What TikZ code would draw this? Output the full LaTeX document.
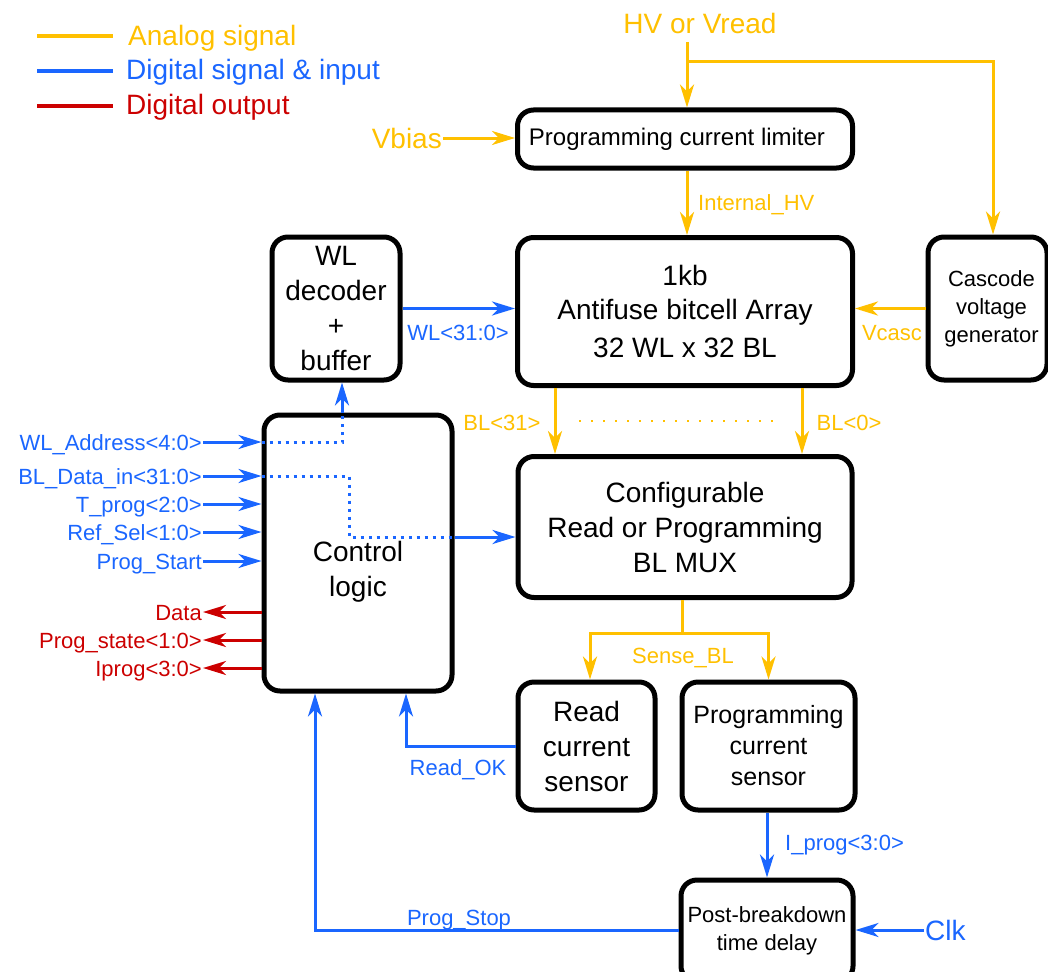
\documentclass[tikz,border=0pt]{standalone}
\usepackage{fontspec}
\setmainfont{Liberation Sans}
\usetikzlibrary{arrows.meta,calc}
\definecolor{aorange}{HTML}{FFC000}
\definecolor{dblue}{HTML}{1A66FF}
\definecolor{dred}{HTML}{CC0000}
\newcommand\fsA{\fontsize{28}{35}\selectfont}
\newcommand\fsMid{\fontsize{25}{31}\selectfont}
\newcommand\fsL{\fontsize{24}{29}\selectfont}
\newcommand\fsS{\fontsize{22}{28}\selectfont}
\newcommand\fsC{\fontsize{22}{26}\selectfont}
\begin{document}
\begin{tikzpicture}[x=1pt,y=-1pt,
  box/.style={draw=black, line width=5pt, rounded corners=16pt, align=center, inner sep=0pt, fill=white},
  sig/.style={line width=3pt},
  tipped/.style={-{Stealth[length=23pt,width=14pt,inset=7pt]}},
  oarr/.style={sig, draw=aorange, tipped},
  barr/.style={sig, draw=dblue, tipped},
  rarr/.style={sig, draw=dred, tipped},
  oline/.style={sig, draw=aorange},
  bdot/.style={line width=3pt, draw=dblue, dash pattern=on 3pt off 5pt},
  odot/.style={line width=2.5pt, draw=aorange, dash pattern=on 2pt off 10pt},
  lab/.style={inner sep=1pt, font=\fsC, text height=16pt, text depth=0pt},
  biglab/.style={inner sep=1pt, font=\fsA, text height=20pt, text depth=0pt},
  legline/.style={line width=4pt},
]
\useasboundingbox (0,0) rectangle (1048,971);

% legend
\node[biglab, text=aorange, anchor=west] (legA) at (127,36) {Analog signal};
\node[biglab, text=dblue, anchor=west] (legB) at (125,70) {Digital signal \& input};
\node[biglab, text=dred, anchor=west] (legC) at (125,104) {Digital output};
\coordinate (lgA) at (37,36);
\coordinate (lgB) at (37,71);
\coordinate (lgC) at (37,106);
\draw[legline, aorange] (lgA) -- ++(76,0);
\draw[legline, dblue] (lgB) -- ++(76,0);
\draw[legline, dred] (lgC) -- ++(76,0);

% boxes
\node[box, minimum width=335pt, minimum height=58pt, font=\fsL] (lim) at (685,139) {Programming current limiter\hspace*{16pt}};
\node[box, minimum width=335pt, minimum height=148pt, font=\fsA] (arry) at (685,311.5) {1kb\\[-1pt]Antifuse bitcell Array\\[3pt]32 WL x 32 BL};
\node[box, minimum width=128pt, minimum height=143pt, font=\fsA] (wld) at (336,308.5) {WL\\decoder\\+\\buffer};
\node[box, minimum width=119pt, minimum height=143pt, font=\fsS] (casc) at (987.5,308.5) {\hspace*{8pt}Cascode\\\hspace*{8pt}voltage\\\hspace*{8pt}generator};
\node[box, minimum width=188pt, minimum height=276pt,
      label={[font=\fsA, align=center, yshift=-19pt]center:Control\\logic}] (ctrl) at (358,553) {};
\node[box, minimum width=334pt, minimum height=141pt, font=\fsA] (mux) at (685,527) {Configurable\\Read or Programming\\BL MUX};
\node[box, minimum width=137pt, minimum height=128pt, font=\fsA] (read) at (586.5,746) {Read\\current\\sensor};
\node[box, minimum width=173pt, minimum height=128pt, font=\fsMid] (prog) at (768.5,746) {Programming\\current\\sensor};
\node[box, minimum width=172pt, minimum height=102pt, font=\fsS] (pbd) at (767,931) {Post-breakdown\\time delay};

% top analog inputs
\node[biglab, text=aorange] (hv) at (700,24) {HV or Vread};
\coordinate (hvtop) at (687,42);
\coordinate (hvbr) at (687,62);
\coordinate (cx) at (993,62);
\draw[oarr] (hvtop) -- (hvtop |- lim.north);
\draw[oarr] (hvbr) -- (cx) -- (cx |- casc.north);
\node[biglab, text=aorange, anchor=east] (vb) at (443,138) {Vbias};
\draw[oarr] (vb.east) -- (lim.west |- vb.east);
\draw[oarr] (lim.south -| hvtop) -- (arry.north -| hvtop);
\node[lab, text=aorange, anchor=west] (ihv) at (697,202) {Internal\_HV};
\draw[oarr] (casc.west) -- (arry.east |- casc.west);
\node[lab, text=aorange] (vcasc) at (892,332) {Vcasc};

% WL
\draw[barr] (wld.east) -- (arry.west |- wld.east);
\node[lab, text=dblue] (wll) at (458,332) {WL<31:0>};

% BL
\coordinate (bl31x) at (555,421);
\coordinate (bl0x) at (802,421);
\draw[oarr] (arry.south -| bl31x) -- (mux.north -| bl31x);
\draw[oarr] (arry.south -| bl0x) -- (mux.north -| bl0x);
\node[lab, text=aorange] (bl31) at (502,422) {BL<31>};
\node[lab, text=aorange] (bl0) at (849,422) {BL<0>};
\coordinate (dotA) at (579,421);
\coordinate (dotB) at (778,421);
\draw[odot] (dotA) -- (dotB);

% MUX to sensors
\coordinate (sj) at (682,633);
\coordinate (rdx) at (590,633);
\draw[oline] (mux.south -| sj) -- (sj);
\draw[oarr] (sj) -- (rdx) -- (rdx |- read.north);
\draw[oarr] (sj) -| (prog.north);
\node[lab, text=aorange] (sbl) at (683,655) {Sense\_BL};

% Read_OK
\coordinate (rokx) at (406,747);
\draw[barr] (read.west) -| (ctrl.south -| rokx);
\node[lab, text=dblue] (rok) at (458,767) {Read\_OK};

% I_prog
\draw[barr] (prog.south -| pbd.north) -- (pbd.north);
\node[lab, text=dblue, anchor=west] (iprog) at (784,842) {I\_prog<3:0>};

% Prog_Stop
\coordinate (psx) at (315,930);
\draw[barr] (pbd.west |- psx) -- (psx) -- (psx |- ctrl.south);
\node[lab, text=dblue] (pstop) at (459,917) {Prog\_Stop};

% Clk
\node[biglab, text=dblue, anchor=west] (clk) at (924,930) {Clk};
\draw[barr] (clk.west) -- (pbd.east |- clk.west);

% control inputs
\node[lab, text=dblue, anchor=east] (iA) at (203,442) {WL\_Address<4:0>};
\node[lab, text=dblue, anchor=east] (iB) at (203,476) {BL\_Data\_in<31:0>};
\node[lab, text=dblue, anchor=east] (iC) at (203,504) {T\_prog<2:0>};
\node[lab, text=dblue, anchor=east] (iD) at (203,532) {Ref\_Sel<1:0>};
\node[lab, text=dblue, anchor=east] (iE) at (203,561) {Prog\_Start};
\foreach \n in {iA,iB,iC,iD,iE} \draw[barr] (\n.east) -- (ctrl.west |- \n.east);

% control outputs
\node[lab, text=dred, anchor=east] (oA) at (203,612) {Data};
\node[lab, text=dred, anchor=east] (oB) at (203,640) {Prog\_state<1:0>};
\node[lab, text=dred, anchor=east] (oC) at (203,668) {Iprog<3:0>};
\foreach \n in {oA,oB,oC} \draw[rarr] (ctrl.west |- \n.east) -- (\n.east);

% internal dotted routes in control logic
\coordinate (wa1) at (342,442);
\draw[bdot] (ctrl.west |- iA.east) -- (wa1) -- (wa1 |- ctrl.north);
\draw[barr] (wa1 |- ctrl.north) -- (wa1 |- wld.south);
\coordinate (bd1) at (349,476);
\coordinate (bd2) at (349,537);
\draw[bdot] (ctrl.west |- iB.east) -- (bd1) -- (bd2) -- (ctrl.east |- bd2);
\draw[barr] (ctrl.east |- bd2) -- (mux.west |- bd2);
\end{tikzpicture}
\end{document}
